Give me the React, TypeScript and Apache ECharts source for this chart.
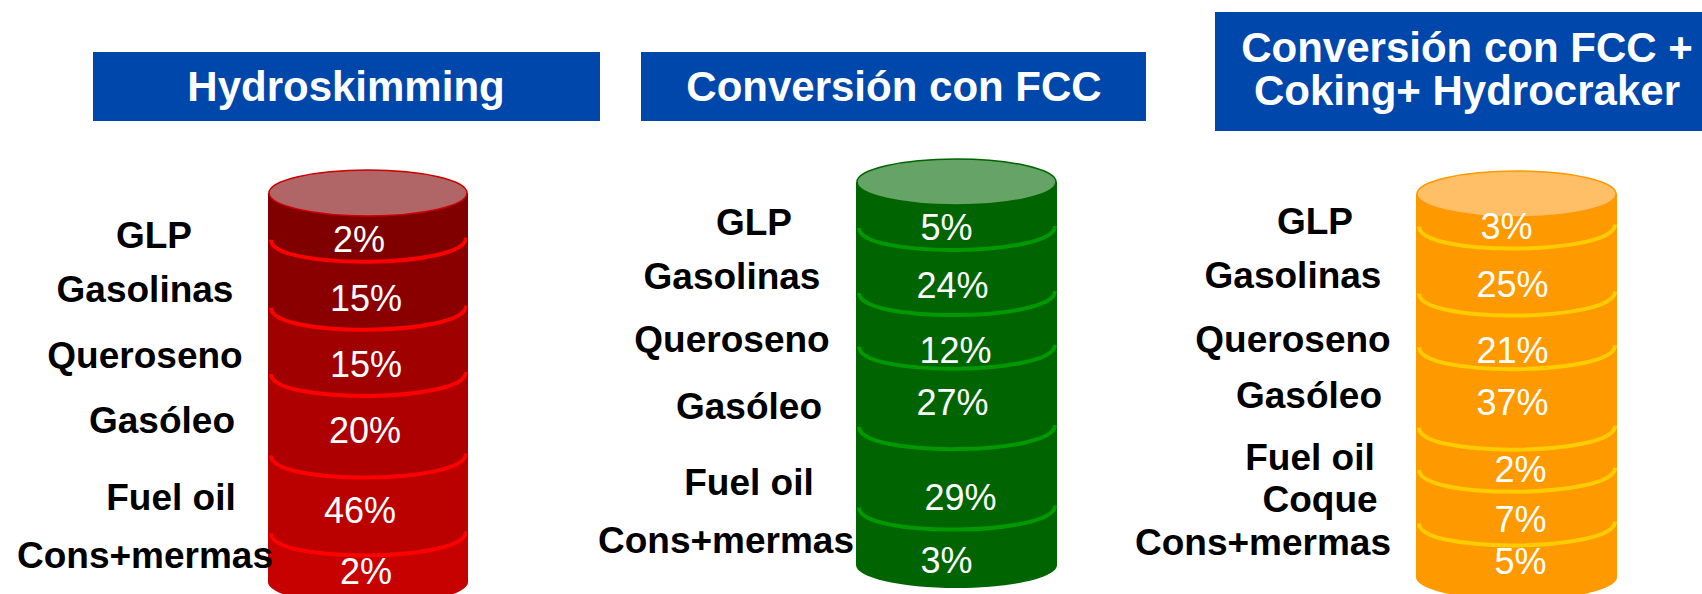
import React, { useEffect, useRef } from "react";
import * as echarts from "echarts";

// ---------------- DATA ----------------
const refineries = [
  "Hydroskimming",
  "Conversión con FCC",
  "Conversión con FCC +\nCoking+ Hydrocraker",
];

const productsHydro = ["GLP", "Gasolinas", "Queroseno", "Gasóleo", "Fuel oil", "Cons+mermas"];
const sharesHydro = [2, 15, 15, 20, 46, 2];
// visual band bottoms on the cylinder (0 = top rim, 100 = base), as drawn
const levelsHydro = [12, 29.5, 46.5, 67.5, 87.5, 100];

const productsFcc = ["GLP", "Gasolinas", "Queroseno", "Gasóleo", "Fuel oil", "Cons+mermas"];
const sharesFcc = [5, 24, 12, 27, 29, 3];
const levelsFcc = [12, 29, 43, 64, 85, 100];

const productsDeep = ["GLP", "Gasolinas", "Queroseno", "Gasóleo", "Fuel oil", "Coque", "Cons+mermas"];
const sharesDeep = [3, 25, 21, 37, 2, 7, 5];
const levelsDeep = [8.5, 26, 40, 61, 72, 86, 100];

// ---------------- LAYOUT / STYLE ----------------
const RY = 23;
const FONT = '"Liberation Sans", Arial, Helvetica, sans-serif';
const BLUE = "#0047AB";

const cylinders = [
  {
    products: productsHydro,
    shares: sharesHydro,
    levels: levelsHydro,
    grid: { left: 268, top: 193, width: 200, height: 389 },
    bands: ["#800000", "#8A0000", "#A00000", "#AE0000", "#BB0000", "#C70000"],
    cap: "#B06666",
    rim: "#CC0000",
    line: "#FF0000",
    pctDx: [-9, -2, -2, -3, -8, -2],
    pctDy: [0, 1.5, 1, -7, -6.5, -9],
    nameDx: [-114, -123, -123, -106, -97, -123],
    nameDy: [-3.5, -7.5, -8, -17, -19.5, -25],
    box: { x: 93, y: 52, w: 507, h: 69, tx: 346, ty: 86.5 },
  },
  {
    products: productsFcc,
    shares: sharesFcc,
    levels: levelsFcc,
    grid: { left: 856, top: 182, width: 201, height: 383 },
    bands: ["#006400", "#006400", "#006400", "#006400", "#006400", "#006400"],
    cap: "#66A366",
    rim: "#006400",
    line: "#009900",
    pctDx: [-10, -4, -1, -4, 4, -10],
    pctDy: [0, 1.5, 7.5, -7.5, 7, 1.5],
    nameDx: [-102, -124, -124, -107, -107, -130],
    nameDy: [-5.5, -7.5, -3.5, -3.5, -8, -18.5],
    box: { x: 641, y: 52, w: 505, h: 69, tx: 894, ty: 86.5 },
  },
  {
    products: productsDeep,
    shares: sharesDeep,
    levels: levelsDeep,
    grid: { left: 1416, top: 194, width: 201, height: 383 },
    bands: ["#FF9900", "#FF9900", "#FF9900", "#FF9900", "#FF9900", "#FF9900", "#FF9900"],
    cap: "#FFBF66",
    rim: "#FF9900",
    line: "#FFCC00",
    pctDx: [-10, -4, -4, -4, 4, 4, 4],
    pctDy: [-6.5, 1.5, 7.5, -7.5, -2, 0, -12],
    nameDx: [-101, -123, -123, -107, -106, -96, -153],
    nameDy: [-11.5, -7.5, -3.5, -14.5, -14, -20.5, -31],
    box: { x: 1215, y: 12, w: 505, h: 119, tx: 1467, ty: 69 },
  },
];

function makeRender(cfg: any) {
  return (params: any, api: any) => {
    const i = api.value(3);
    const n = cfg.products.length;
    const p0 = api.coord([api.value(0), api.value(1)]);
    const p1 = api.coord([api.value(0), api.value(2)]);
    const w = api.size([1, 0])[0];
    const cx = p0[0];
    const rx = w / 2;
    const ry = RY;
    const y0 = p0[1];
    const y1 = p1[1];
    const base = (n - i) * 10;
    const children: any[] = [
      {
        type: "rect",
        z2: base,
        shape: { x: cx - rx, y: y0, width: w, height: y1 - y0 },
        style: { fill: cfg.bands[i] },
      },
      {
        type: "ellipse",
        z2: base + 1,
        shape: { cx, cy: y1, rx, ry },
        style: { fill: cfg.bands[i] },
      },
    ];
    if (i < n - 1) {
      const k = (ry * 4) / 3;
      children.push({
        type: "bezierCurve",
        z2: base + 2,
        shape: {
          x1: cx - rx + 3,
          y1: y1,
          x2: cx + rx - 2,
          y2: y1 - 2,
          cpx1: cx - rx + 3,
          cpy1: y1 + k,
          cpx2: cx + rx - 2,
          cpy2: y1 + k - 2,
        },
        style: { stroke: cfg.line, lineWidth: 4, fill: "none" },
      });
    }
    if (i === 0) {
      children.push({
        type: "ellipse",
        z2: 500,
        shape: { cx, cy: y0, rx: rx - 1, ry },
        style: { fill: cfg.cap, stroke: cfg.rim, lineWidth: 1.5 },
      });
    }
    const vc = (y0 + y1) / 2 + ry;
    children.push({
      type: "text",
      z2: 1000,
      x: cx + cfg.pctDx[i],
      y: vc + cfg.pctDy[i],
      style: {
        text: cfg.shares[i] + "%",
        fill: "#FFFFFF",
        font: `36px ${FONT}`,
        align: "center",
        verticalAlign: "middle",
      },
    });
    children.push({
      type: "text",
      z2: 1000,
      x: cx - rx + cfg.nameDx[i],
      y: vc + cfg.nameDy[i],
      style: {
        text: cfg.products[i],
        fill: "#000000",
        font: `bold 37px ${FONT}`,
        align: "center",
        verticalAlign: "middle",
      },
    });
    return { type: "group", children };
  };
}

export default function App() {
  const ref = useRef<HTMLDivElement>(null);
  useEffect(() => {
    if (!ref.current) return;
    const chart = echarts.init(ref.current, undefined, { renderer: "svg" });
    const graphic: any[] = [];
    cylinders.forEach((c, idx) => {
      graphic.push({
        type: "rect",
        shape: { x: c.box.x, y: c.box.y, width: c.box.w, height: c.box.h },
        style: { fill: BLUE },
        z: 1,
      });
      graphic.push({
        type: "text",
        x: c.box.tx,
        y: c.box.ty,
        z: 2,
        style: {
          text: refineries[idx],
          fill: "#FFFFFF",
          font: `bold 42px ${FONT}`,
          align: "center",
          verticalAlign: "middle",
          lineHeight: 43,
        },
      });
    });
    const option: any = {
      animation: false,
      backgroundColor: "#FFFFFF",
      grid: cylinders.map((c) => ({ ...c.grid, containLabel: false })),
      xAxis: cylinders.map((c, idx) => ({
        gridIndex: idx,
        type: "category",
        data: [refineries[idx]],
        show: false,
      })),
      yAxis: cylinders.map((c, idx) => ({
        gridIndex: idx,
        type: "value",
        min: 0,
        max: 100,
        inverse: true,
        show: false,
      })),
      graphic,
      series: cylinders.map((c, idx) => ({
        type: "custom",
        xAxisIndex: idx,
        yAxisIndex: idx,
        clip: false,
        renderItem: makeRender(c),
        encode: { x: 0, y: [1, 2] },
        data: c.products.map((p, i) => [0, i === 0 ? 0 : c.levels[i - 1], c.levels[i], i]),
      })),
    };
    chart.setOption(option);
    return () => chart.dispose();
  }, []);
  return (
    <div
      ref={ref}
      style={{ position: "fixed", left: 0, top: 0, width: 1702, height: 594, background: "#fff" }}
    />
  );
}
